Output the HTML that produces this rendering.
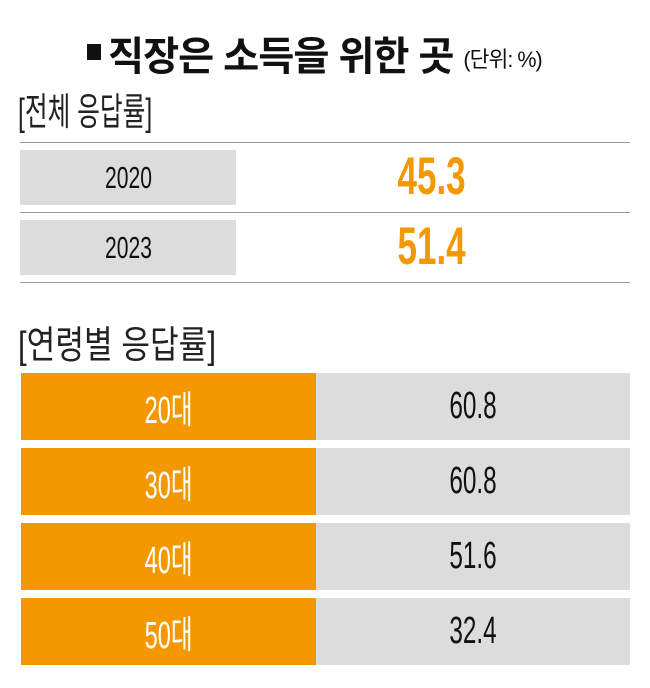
<!DOCTYPE html>
<html><head><meta charset="utf-8"><style>
body{margin:0;width:650px;height:688px;background:#fff;position:relative;overflow:hidden;font-family:"Liberation Sans","Noto Sans CJK KR",sans-serif;}
.a{position:absolute;}
.c{display:flex;align-items:center;justify-content:center;}
.cond{display:inline-block;transform:scaleX(0.78);}
</style></head><body>
<div class="a" style="left:87px;top:44px;width:14px;height:16px;background:#111"></div>
<div class="a" style="left:108px;top:24px;font-size:40px;font-weight:bold;color:#111;white-space:nowrap;letter-spacing:-1px"><span class="cond" style="transform-origin:left;transform:scaleX(0.98)">직장은 소득을 위한 곳 <span style="font-size:22px;font-weight:normal;vertical-align:3px">(단위: %)</span></span></div>
<div class="a" style="left:18px;top:81px;font-size:38px;color:#222;white-space:nowrap"><span class="cond" style="transform-origin:left;transform:scaleX(0.65)">[전체 응답률]</span></div>
<div class="a" style="left:0;top:0" id="ov"></div>
<div class="a" style="left:18px;top:314px;font-size:38px;color:#222;white-space:nowrap"><span class="cond" style="transform-origin:left;transform:scaleX(0.82)">[연령별 응답률]</span></div>
<div class="a" style="left:0;top:0" id="ag"></div>
<script>
const years=["2020","2023"];
const overallValues=[45.3,51.4];
const ageGroups=["20대","30대","40대","50대"];
const ageValues=[60.8,60.8,51.6,32.4];
const ov=document.getElementById('ov');
function line(y,name){const l=document.createElement('div');l.className='a';


l.style.cssText=`left:20px;top:${y}px;width:610px;height:1px;background:#999`;ov.appendChild(l);}
line(142,'top-rule');
years.forEach((y,i)=>{const top=150+i*70;
const b=document.createElement('div');b.className='a c';


b.style.cssText=`left:20px;top:${top}px;width:216px;height:55px;background:#dcdcdc;font-size:31px;color:#111`;
b.innerHTML=`<span class="cond" style="transform:scaleX(0.68)">${y}</span>`;ov.appendChild(b);
const v=document.createElement('div');v.className='a c';


v.style.cssText=`left:332px;top:${top-1}px;width:200px;height:55px;font-size:53px;font-weight:bold;color:#f39800`;
v.innerHTML=`<span class="cond" style="transform:scaleX(0.66)">${overallValues[i].toFixed(1)}</span>`;ov.appendChild(v);
line(top+62,'row-rule-'+y);});
const ag=document.getElementById('ag');
ageGroups.forEach((g,i)=>{const top=373+i*75;
const l=document.createElement('div');l.className='a c';


l.style.cssText=`left:21px;top:${top}px;width:295px;height:67px;background:#f39800;color:#fff;font-size:38px`;
l.innerHTML=`<span class="cond" style="transform:scaleX(0.62)">${g}</span>`;ag.appendChild(l);
const v=document.createElement('div');v.className='a c';


v.style.cssText=`left:316px;top:${top}px;width:314px;height:67px;background:#dcdcdc;color:#111;font-size:38px`;
v.innerHTML=`<span class="cond" style="transform:scaleX(0.64)">${ageValues[i].toFixed(1)}</span>`;ag.appendChild(v);});
</script>
</body></html>
